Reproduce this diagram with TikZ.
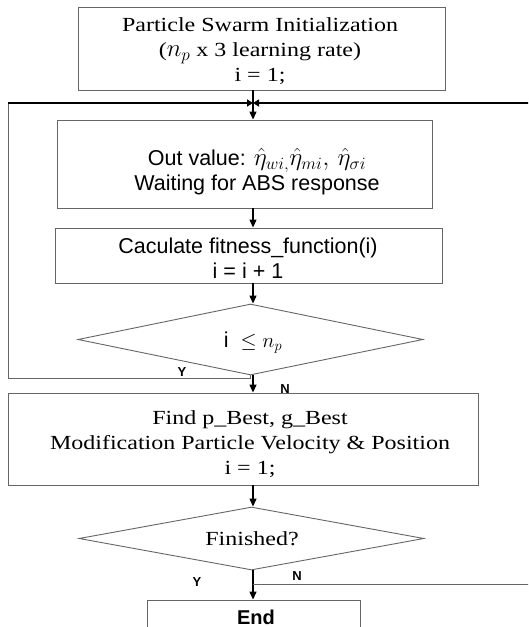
\documentclass[tikz,border=0pt]{standalone}
\usepackage{fontspec}
\usetikzlibrary{arrows.meta,shapes.geometric}
\newfontfamily\serifw[FakeStretch=1.2]{Liberation Serif}
\newfontfamily\sansw{Liberation Sans}
\begin{document}
\begin{tikzpicture}[x=1pt,y=-1pt,
 box/.style={draw=black!60,line width=0.9pt,rectangle,inner sep=0pt},
 dia/.style={draw=black!60,line width=0.9pt,diamond,inner sep=0pt},
 serift/.style={font=\serifw\fontsize{20}{25}\selectfont,align=center,inner sep=0pt},
 sanst/.style={font=\sansw\fontsize{21.5}{25}\selectfont,align=center,inner sep=0pt},
 yn/.style={font=\sansw\bfseries\fontsize{13}{13}\selectfont,inner sep=0pt},
 arr/.style={draw=black,line width=1.3pt,-{Triangle[length=8pt,width=7pt]}},
 gline/.style={draw=black!60,line width=1pt},
 tline/.style={draw=black,line width=1.5pt}]
\useasboundingbox (0,0) rectangle (528,627);
\fill[white] (0,0) rectangle (528,627);
\clip (0,0) rectangle (528,627);

% boxes
\node[box,minimum width=367pt,minimum height=83pt] (b1) at (261.5,48.5) {};
\node[box,minimum width=375pt,minimum height=88pt] (b2) at (244.5,164) {};
\node[box,minimum width=387pt,minimum height=55pt] (b3) at (248.5,255.5) {};
\node[dia,minimum width=345pt,minimum height=71pt] (d1) at (250.5,339.5) {};
\node[box,minimum width=470pt,minimum height=92pt] (b4) at (243,439) {};
\node[dia,minimum width=345pt,minimum height=63pt] (d2) at (251.5,538.5) {};
\node[box,minimum width=213pt,minimum height=50pt] (e) at (253.5,625) {};

% texts
\node[serift] (t1) at (260,51) {Particle Swarm Initialization\\({\fontsize{23}{25}\selectfont$n_p$} x 3 learning rate)\\i = 1;};
\node[sanst] (t2) at (257,172) {Out value: {\fontsize{25}{25}\selectfont$\hat{\eta}_{wi,}\hat{\eta}_{mi},\,\hat{\eta}_{\sigma i}$}\\Waiting for ABS response};
\node[sanst] (t3) at (248,258) {Caculate fitness\_function(i)\\i = i + 1};
\node[sanst] (t4) at (253,343) {i\ \ $\leq n_p$};
\node[serift] (t5) at (250,444) {Find p\_Best, g\_Best\\Modification Particle Velocity \& Position\\i = 1;};
\node[serift] (t6) at (252,539) {Finished?};
\node[font=\sansw\bfseries\fontsize{20}{20}\selectfont,inner sep=0pt] (t7) at (256,617) {End};

% Y / N labels
\node[yn] (y1) at (182,372) {Y};
\node[yn] (n1) at (285,389) {N};
\node[yn] (y2) at (197,582) {Y};
\node[yn] (n2) at (297,576) {N};

% spine and loop coordinates
\coordinate (sp) at (253,0);
\coordinate (jn) at (253,103);
\coordinate (ll) at (8,378);
\coordinate (lt) at (8,103);
\coordinate (rt) at (532,103);
\coordinate (nb) at (253,584);
\coordinate (rb) at (532,584);

% main flow
\draw[arr] (b1.south -| sp) -- (b2.north -| sp);
\draw[arr] (b2.south -| sp) -- (b3.north -| sp);
\draw[arr] (b3.south -| sp) -- (d1.north -| sp);
\draw[arr] (d1.south -| sp) -- (b4.north -| sp);
\draw[arr] (b4.south -| sp) -- (d2.north -| sp);
\draw[arr] (d2.south -| sp) -- (e.north -| sp);

% Y loop (left)
\draw[gline] (d1.south) -- (d1.south |- ll) -- (ll) -- (lt);
\draw[tline,-{Triangle[length=6pt,width=7pt]}] (lt) -- (jn);
% N loop (right)
\draw[gline] (nb) -- (rb) -- (rt);
\draw[tline,-{Triangle[length=6pt,width=7pt]}] (rt) -- (jn);
\end{tikzpicture}
\end{document}
